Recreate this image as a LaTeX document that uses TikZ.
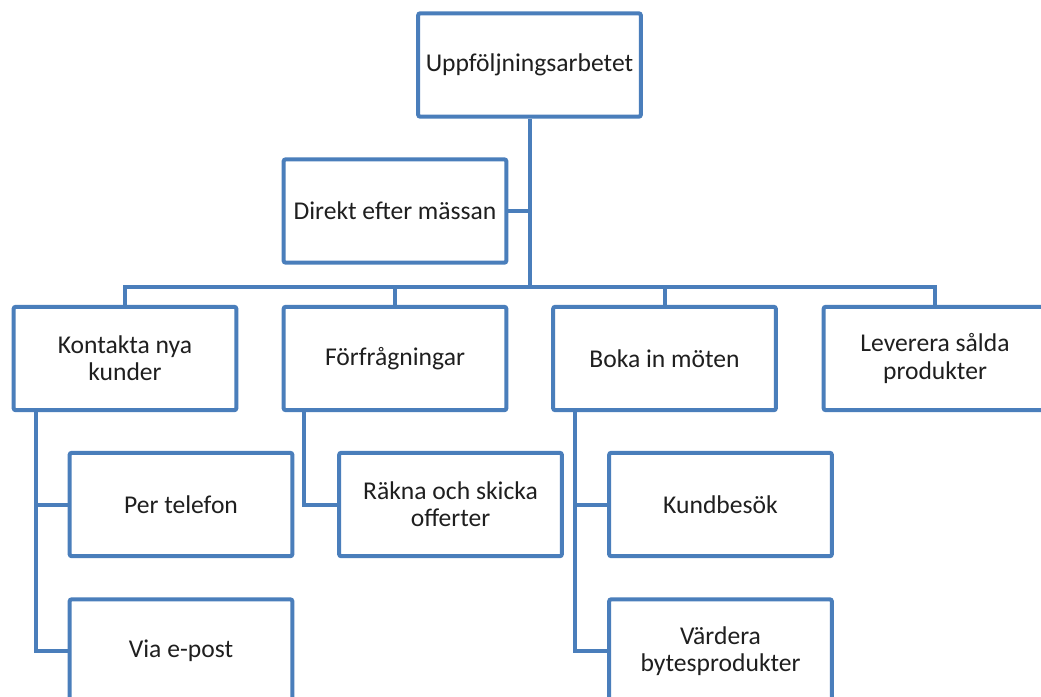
\documentclass[tikz,border=0pt]{standalone}
\usepackage{fontspec}
\setmainfont{Carlito}
\definecolor{boxblue}{HTML}{4A7EBB}
\begin{document}
\begin{tikzpicture}[x=0.75pt,y=-0.75pt,
  box/.style={draw=boxblue, line width=3pt, rounded corners=1.5pt, fill=white,
    minimum width=167pt, minimum height=77.5pt, align=center, inner sep=0pt,
    font=\fontsize{19.2}{20.3}\selectfont, text=black!88},
  link/.style={draw=boxblue, line width=3pt}]
\useasboundingbox (0,0) rectangle (1041,696);
\clip (0,0) rectangle (1041,696);
\fill[white] (0,0) rectangle (1041,696);
% nodes
\node[box] (top) at (529.5,65) {Uppföljningsarbetet};
\node[box] (direkt) at (395,211) {Direkt efter mässan};
\node[box] (kontakta) at (125,358.5) {Kontakta nya\\kunder};
\node[box] (forfr) at (395,358.5) {Förfrågningar};
\node[box] (boka) at (664.5,358.5) {Boka in möten};
\node[box] (leverera) at (935,358.5) {Leverera sålda\\produkter};
\node[box] (telefon) at (181,504.5) {Per telefon};
\node[box] (via) at (181,651) {Via e-post};
\node[box] (rakna) at (450.5,504.5) {Räkna och skicka\\offerter};
\node[box] (kund) at (720.5,504.5) {Kundbesök};
\node[box] (vardera) at (720.5,651) {Värdera\\bytesprodukter};
% connectors
\coordinate (bar) at (530,287);
\draw[link] (top.south) -- (top.south |- bar);
\draw[link] (direkt.east) -- (direkt.east -| top.south);
\draw[link] (kontakta.north) -- (kontakta.north |- bar) -- (leverera.north |- bar) -- (leverera.north);
\draw[link] (forfr.north) -- (forfr.north |- bar);
\draw[link] (boka.north) -- (boka.north |- bar);
\draw[link] ([xshift=18pt]kontakta.south west) |- (via.west);
\draw[link] ([xshift=18pt]kontakta.south west |- telefon.west) -- (telefon.west);
\draw[link] ([xshift=16.5pt]forfr.south west) |- (rakna.west);
\draw[link] ([xshift=18pt]boka.south west) |- (vardera.west);
\draw[link] ([xshift=18pt]boka.south west |- kund.west) -- (kund.west);
\end{tikzpicture}
\end{document}
